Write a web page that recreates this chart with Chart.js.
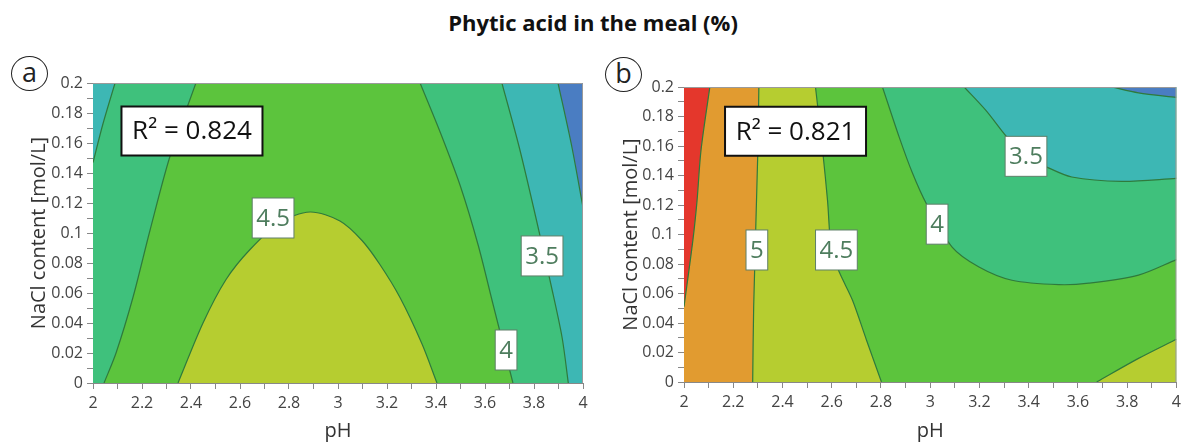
<!DOCTYPE html>
<html>
<head>
<meta charset="utf-8">
<script src="https://cdn.jsdelivr.net/npm/chart.js@4.4.0/dist/chart.umd.min.js"></script>
<style>
  body { margin: 0; width: 1186px; height: 443px; background: #fff; position: relative; overflow: hidden; font-family: 'Open Sans', sans-serif; }
  #title { position: absolute; top: 7px; left: 0; width: 1186px; text-align: center; font-weight: bold; font-size: 22px; color: #111; }
  .tag { position: absolute; width: 35px; height: 33px; border: 1.5px solid #222; border-radius: 50%; text-align: center; line-height: 29px; font-size: 27px; color: #222; }
  .panel { position: absolute; top: 0; }
</style>
</head>
<body>
<div id="title">Phytic acid in the meal (%)</div>
<div class="tag" style="left:11px;top:56px">a</div>
<div class="tag" style="left:605px;top:57px">b</div>
<canvas id="chartA" class="panel" style="left:0" width="593" height="443"></canvas>
<canvas id="chartB" class="panel" style="left:593px" width="593" height="443"></canvas>
<script>
// axes
const X_MIN = 2, X_MAX = 4, Y_MIN = 0, Y_MAX = 0.2;
const X_TICKS = [2, 2.2, 2.4, 2.6, 2.8, 3, 3.2, 3.4, 3.6, 3.8, 4];
const Y_TICKS = [0, 0.02, 0.04, 0.06, 0.08, 0.1, 0.12, 0.14, 0.16, 0.18, 0.2];

// panel a contour lines, [pH, NaCl]
const A_35_LEFT = [[2.09, 0.2], [2.041, 0.173], [2.0, 0.147]];
const A_4_LEFT = [[2.42, 0.2], [2.314, 0.151], [2.233, 0.102], [2.163, 0.057], [2.094, 0.02], [2.045, 0]];
const A_45 = [[2.347, 0], [2.449, 0.04], [2.543, 0.069], [2.641, 0.089], [2.763, 0.107], [2.886, 0.114],
  [3.008, 0.108], [3.098, 0.095], [3.171, 0.079], [3.253, 0.057], [3.343, 0.026], [3.404, 0]];
const A_4_RIGHT = [[3.335, 0.2], [3.42, 0.166], [3.5, 0.131], [3.572, 0.092], [3.632, 0.053], [3.68, 0.022], [3.714, 0]];
const A_35_RIGHT = [[3.669, 0.2], [3.74, 0.157], [3.808, 0.11], [3.87, 0.065], [3.915, 0.03], [3.94, 0]];
const A_3_RIGHT = [[3.898, 0.2], [3.955, 0.157], [4.0, 0.117]];
const A_LABELS = [[2.735, 0.11, '4.5'], [3.833, 0.0847, '3.5'], [3.686, 0.022, '4']];
const A_R2 = [2.404, 0.168, 'R² = 0.824'];

// panel b contour lines, [pH, NaCl]
const B_55 = [[2.105, 0.2], [2.069, 0.157], [2.053, 0.123], [2.036, 0.096], [2.0, 0.051]];
const B_5 = [[2.304, 0.2], [2.3, 0.157], [2.283, 0.051], [2.279, 0]];
const B_45 = [[2.534, 0.2], [2.563, 0.157], [2.583, 0.123], [2.599, 0.0895], [2.632, 0.074], [2.684, 0.0556], [2.741, 0.0285], [2.802, 0]];
const B_4 = [[2.806, 0.2], [2.874, 0.166], [2.927, 0.142], [2.984, 0.121], [3.089, 0.0915], [3.198, 0.078], [3.332, 0.069],
  [3.522, 0.066], [3.644, 0.067], [3.846, 0.0725], [4.0, 0.083]];
const B_35 = [[3.138, 0.2], [3.227, 0.184], [3.312, 0.166], [3.389, 0.153], [3.47, 0.146], [3.575, 0.139], [3.777, 0.136], [4.0, 0.138]];
const B_3 = [[3.737, 0.2], [3.846, 0.196], [4.0, 0.193]];
const B_45_LOW = [[3.676, 0], [3.846, 0.016], [4.0, 0.029]];
const B_LABELS = [[2.296, 0.0895, '5'], [2.619, 0.0895, '4.5'], [3.028, 0.107, '4'], [3.389, 0.153, '3.5']];
const B_R2 = [2.453, 0.17, 'R² = 0.821'];

const COL = { blue: '#4a7dc2', cyan: '#3db7b4', teal: '#3fc17c', green: '#5cc43d', yellow: '#b6cd30', orange: '#e19b30', red: '#e4372c' };
const LINE = '#2f7a3c';
const FONT = 'Open Sans';

const toXY = pts => pts.map(p => ({ x: p[0], y: p[1] }));
const TL = [X_MIN, Y_MAX], TR = [X_MAX, Y_MAX], BL = [X_MIN, Y_MIN], BR = [X_MAX, Y_MIN];

// closes a contour along the plot edges; doubled points keep the edges straight
function poly(curve, corners) {
  const pts = curve.concat([curve[curve.length - 1]]);
  corners.forEach(c => pts.push(c, c));
  return pts;
}

function regions(list) {
  // first entry is the bottom layer
  return list.map(([pts, color], i) => ({
    data: toXY(pts), backgroundColor: color, borderColor: 'transparent', borderWidth: 0,
    fill: 'shape', tension: 0.3, pointRadius: 0, order: 100 - i
  }));
}
function contours(list) {
  return list.map(pts => ({
    data: toXY(pts), borderColor: LINE, borderWidth: 1.2, fill: false, tension: 0.3, pointRadius: 0, order: 0
  }));
}

const boxLabels = {
  id: 'boxLabels',
  afterDatasetsDraw(chart, args, opts) {
    const { ctx, chartArea: ca } = chart;
    ctx.save();
    ctx.strokeStyle = '#9a9a9a';
    ctx.lineWidth = 1;
    ctx.beginPath();
    ctx.moveTo(ca.left, ca.top + 0.5);
    ctx.lineTo(ca.right - 0.5, ca.top + 0.5);
    ctx.lineTo(ca.right - 0.5, ca.bottom);
    ctx.stroke();
    ctx.restore();
    const sx = chart.scales.x, sy = chart.scales.y;
    (opts.items || []).forEach(it => {
      const px = sx.getPixelForValue(it.at[0]);
      const py = sy.getPixelForValue(it.at[1]);
      ctx.save();
      ctx.font = it.size + 'px "' + FONT + '"';
      const w = it.w || ctx.measureText(it.at[2]).width + it.padX * 2;
      const h = it.h;
      ctx.fillStyle = '#fff';
      ctx.fillRect(px - w / 2, py - h / 2, w, h);
      ctx.lineWidth = it.lw;
      ctx.strokeStyle = it.stroke;
      ctx.strokeRect(px - w / 2, py - h / 2, w, h);
      ctx.fillStyle = it.color;
      ctx.textAlign = 'center';
      ctx.textBaseline = 'middle';
      ctx.fillText(it.at[2], px, py + 1);
      ctx.restore();
    });
  }
};

function tickFmt(list) {
  return v => {
    const t = list.find(t => Math.abs(t - v) < 1e-6);
    return t === undefined ? '' : String(t);
  };
}

function makeChart(id, datasets, labels, r2, pad, yWidth, xHeight) {
  const items = labels.map(l => ({ at: l, size: 24, padX: 4, h: 40, lw: 1, stroke: '#5f7f68', color: '#4e7d5e' }));
  items.push({ at: r2, size: 26, w: 141, h: 49, lw: 2, stroke: '#111', color: '#111' });
  return new Chart(document.getElementById(id), {
    type: 'line',
    data: { datasets },
    plugins: [boxLabels],
    options: {
      responsive: false,
      animation: false,
      events: [],
      layout: { padding: pad },
      plugins: { legend: { display: false }, tooltip: { enabled: false }, boxLabels: { items } },
      scales: {
        x: {
          type: 'linear', min: X_MIN, max: X_MAX,
          afterFit: s => { s.height = xHeight; },
          ticks: { stepSize: 0.1, autoSkip: false, maxRotation: 0, padding: 5, color: '#444', font: { family: FONT, size: 16 }, callback: tickFmt(X_TICKS) },
          grid: { drawOnChartArea: false, tickLength: 6, tickColor: '#888' },
          border: { color: '#888' },
          title: { display: true, text: 'pH', color: '#333', font: { family: FONT, size: 20 }, padding: 0 }
        },
        y: {
          type: 'linear', min: Y_MIN, max: Y_MAX,
          afterFit: s => { s.width = yWidth; },
          ticks: { stepSize: 0.01, autoSkip: false, padding: 4, color: '#444', font: { family: FONT, size: 16 }, callback: tickFmt(Y_TICKS) },
          grid: { drawOnChartArea: false, tickLength: 6, tickColor: '#888' },
          border: { color: '#888' },
          title: { display: true, text: 'NaCl content [mol/L]', color: '#333', font: { family: FONT, size: 20 }, padding: 0 }
        }
      }
    }
  });
}

const aSets = regions([
  [poly([BL], [BR, TR, TL]), COL.green],
  [poly(A_4_LEFT, [BL, TL]), COL.teal],
  [poly(A_35_LEFT, [TL]), COL.cyan],
  [poly(A_45, []), COL.yellow],
  [poly(A_4_RIGHT, [BR, TR]), COL.teal],
  [poly(A_35_RIGHT, [BR, TR]), COL.cyan],
  [poly(A_3_RIGHT, [TR]), COL.blue]
]).concat(contours([A_35_LEFT, A_4_LEFT, A_45, A_4_RIGHT, A_35_RIGHT, A_3_RIGHT]));

const bSets = regions([
  [poly([BL], [BR, TR, TL]), COL.green],
  [poly(B_4, [TR]), COL.teal],
  [poly(B_35, [TR]), COL.cyan],
  [poly(B_3, [TR]), COL.blue],
  [poly(B_45, [BL, TL]), COL.yellow],
  [poly(B_5, [BL, TL]), COL.orange],
  [poly(B_55, [TL]), COL.red],
  [poly(B_45_LOW, [BR]), COL.yellow]
]).concat(contours([B_55, B_5, B_45, B_4, B_35, B_3, B_45_LOW]));

makeChart('chartA', aSets, A_LABELS, A_R2, { left: 27, right: 10, top: 83, bottom: 0 }, 66, 60);
makeChart('chartB', bSets, B_LABELS, B_R2, { left: 26, right: 8, top: 87, bottom: 0 }, 65, 61);
</script>
</body>
</html>
